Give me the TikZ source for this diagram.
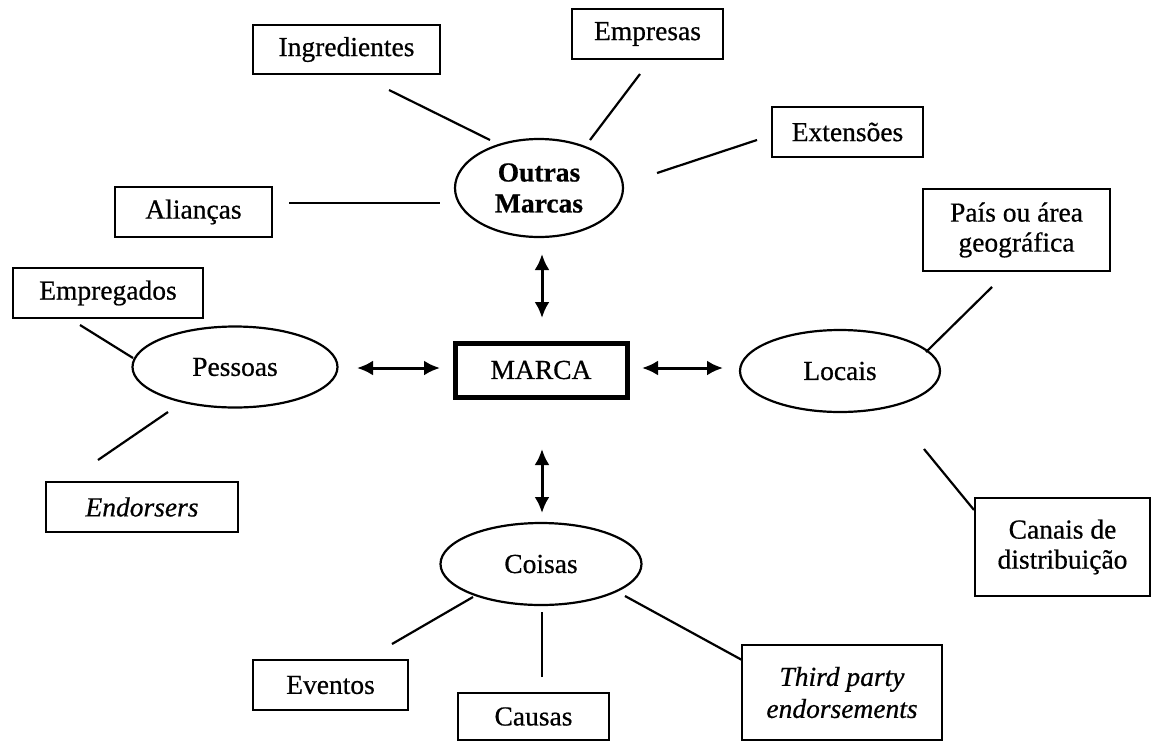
\documentclass[tikz,border=0pt]{standalone}
\usepackage{fontspec}
\setmainfont{Liberation Serif}[FakeBold=0.6]
\usetikzlibrary{shapes.geometric,arrows.meta}
\tikzset{
  box/.style={draw, rectangle, line width=2.2pt, inner sep=0pt, align=center},
  ell/.style={draw, ellipse, line width=2.2pt, inner sep=0pt, align=center},
  conn/.style={line width=2.2pt},
  arr/.style={line width=3pt, {Latex[length=16pt,width=15pt]}-{Latex[length=16pt,width=15pt]}}
}
\begin{document}
\begin{tikzpicture}[x=1pt,y=-1pt,font=\fontsize{27.5}{30}\selectfont]
\fill[white] (0,0) rectangle (1156,742);
\useasboundingbox (0,0) rectangle (1156,742);

% central and satellite nodes
\node[box, line width=5pt, minimum width=172pt, minimum height=54pt] (marca) at (541,370) {MARCA};
\node[ell, minimum width=168pt, minimum height=98pt] (om) at (539,188) {\bfseries Outras\\[1pt]\bfseries Marcas};
\node[ell, minimum width=205pt, minimum height=81pt] (pes) at (235,367) {Pessoas};
\node[ell, minimum width=200pt, minimum height=82pt] (loc) at (840,371) {Locais};
\node[ell, minimum width=201pt, minimum height=82pt] (coi) at (541,564) {Coisas};

% boxes
\node[box, minimum width=187pt, minimum height=49pt] (ingr) at (346.5,49.5) {Ingredientes};
\node[box, minimum width=151pt, minimum height=50pt] (empr) at (647.5,34) {Empresas};
\node[box, minimum width=151pt, minimum height=50pt] (ext) at (847.5,132) {Extensões};
\node[box, minimum width=157pt, minimum height=50pt] (ali) at (193.5,212) {Alianças};
\node[box, minimum width=190pt, minimum height=50pt] (emg) at (108,293) {Empregados};
\node[box, minimum width=192pt, minimum height=50pt] (end) at (142,507) {\itshape Endorsers};
\node[box, minimum width=187pt, minimum height=82pt] (pais) at (1016.5,230) {País ou área\\geográfica};
\node[box, minimum width=175pt, minimum height=98pt] (can) at (1062.5,547) {Canais de\\distribuição};
\node[box, minimum width=155pt, minimum height=50pt] (eve) at (330.5,685) {Eventos};
\node[box, minimum width=151pt, minimum height=47pt] (cau) at (533.5,716.5) {Causas};
\node[box, minimum width=200pt, minimum height=95pt] (thp) at (842,692.5) {\itshape Third party\\[2pt]\itshape endorsements};

% connector end points
\coordinate (c1a) at (389,90);   \coordinate (c1b) at (490,140);
\coordinate (c2a) at (640,74);   \coordinate (c2b) at (590,140);
\coordinate (c3a) at (757,140);  \coordinate (c3b) at (657,173);
\coordinate (c4a) at (289,203);  \coordinate (c4b) at (440,203);
\coordinate (c9a) at (80,325);   \coordinate (c9b) at (133,358);
\coordinate (c10a) at (98,460);  \coordinate (c10b) at (168,412);
\coordinate (c11a) at (992,287); \coordinate (c11b) at (926,352);
\coordinate (c12a) at (974,510); \coordinate (c12b) at (924,449);
\coordinate (c13a) at (392,644); \coordinate (c13b) at (473,597);
\coordinate (c14a) at (542,677); \coordinate (c14b) at (542,612);
\coordinate (c15a) at (742,660); \coordinate (c15b) at (625,596);

\draw[conn] (c1a) -- (c1b);
\draw[conn] (c2a) -- (c2b);
\draw[conn] (c3a) -- (c3b);
\draw[conn] (c4a) -- (c4b);
\draw[conn] (c9a) -- (c9b);
\draw[conn] (c10a) -- (c10b);
\draw[conn] (c11a) -- (c11b);
\draw[conn] (c12a) -- (c12b);
\draw[conn] (c13a) -- (c13b);
\draw[conn] (c14a) -- (c14b);
\draw[conn] (c15a) -- (c15b);

% arrows
\coordinate (a1a) at (542,254); \coordinate (a1b) at (542,318);
\coordinate (a2a) at (357,368); \coordinate (a2b) at (440,368);
\coordinate (a3a) at (642,368); \coordinate (a3b) at (723,368);
\coordinate (a4a) at (542,449); \coordinate (a4b) at (542,513);
\draw[arr] (a1a) -- (a1b);
\draw[arr] (a2a) -- (a2b);
\draw[arr] (a3a) -- (a3b);
\draw[arr] (a4a) -- (a4b);
\end{tikzpicture}
\end{document}
